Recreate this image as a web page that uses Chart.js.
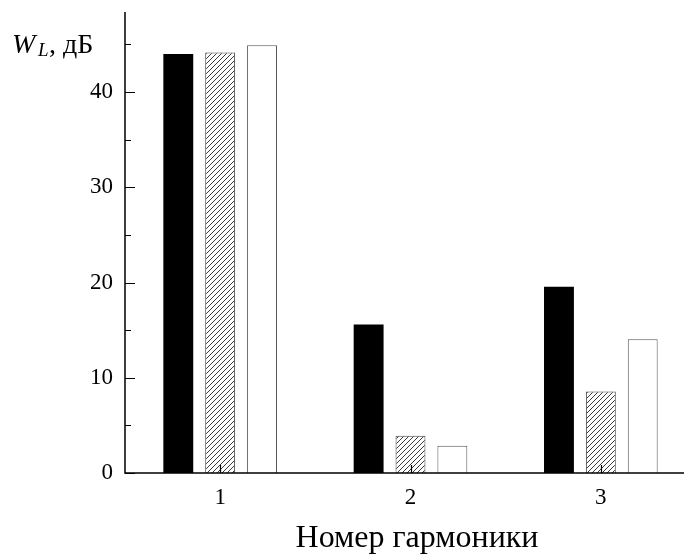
<!DOCTYPE html>
<html>
<head>
<meta charset="utf-8">
<script src="https://cdn.jsdelivr.net/npm/chart.js@4"></script>
<style>
html, body { margin: 0; padding: 0; background: #fff; overflow: hidden; }
#wrap { width: 700px; height: 554px; }
</style>
</head>
<body>
<div id="wrap"><canvas id="chart" width="700" height="554"></canvas></div>
<script>
// data
const categories = ['1', '2', '3'];
const blackBars = [44.0, 15.6, 19.55];
const hatchedBars = [44.15, 3.9, 8.55];
const whiteBars = [44.9, 2.85, 14.05];
const yMajorTicks = [0, 10, 20, 30, 40];
const yMinorTicks = [5, 15, 25, 35, 45];
const xTitle = 'Номер гармоники';

const serif = '"Liberation Serif", "Times New Roman", serif';

function makeHatch() {
    const n = 5;
    const c = document.createElement('canvas');
    c.width = n;
    c.height = n;
    const g = c.getContext('2d');
    g.fillStyle = '#fff';
    g.fillRect(0, 0, n, n);
    g.strokeStyle = '#3a3a3a';
    g.lineWidth = 1;
    g.beginPath();
    g.moveTo(-1, n + 1); g.lineTo(n + 1, -1);
    g.moveTo(-n - 1, 1); g.lineTo(1, -n - 1);
    g.moveTo(n - 1, 2 * n + 1); g.lineTo(2 * n + 1, n - 1);
    g.stroke();
    return g.createPattern(c, 'repeat');
}

const axesPlugin = {
    id: 'axesPlugin',
    afterDatasetsDraw(chart) {
        const ctx = chart.ctx;
        const area = chart.chartArea;
        const x = chart.scales.x;
        const y = chart.scales.y;
        ctx.save();
        ctx.strokeStyle = '#000';
        ctx.lineWidth = 1.5;
        ctx.beginPath();
        ctx.moveTo(area.left, area.top);
        ctx.lineTo(area.left, area.bottom);
        ctx.lineTo(chart.width, area.bottom);
        ctx.stroke();

        // inward ticks
        ctx.lineWidth = 1.2;
        ctx.beginPath();
        yMajorTicks.forEach(v => {
            const py = Math.round(y.getPixelForValue(v)) + 0.5;
            ctx.moveTo(area.left, py);
            ctx.lineTo(area.left + 10, py);
        });
        yMinorTicks.forEach(v => {
            const py = Math.round(y.getPixelForValue(v)) + 0.5;
            ctx.moveTo(area.left, py);
            ctx.lineTo(area.left + 6, py);
        });
        categories.forEach((c, i) => {
            const px = Math.round(x.getPixelForValue(i)) + 0.5;
            ctx.moveTo(px, area.bottom);
            ctx.lineTo(px, area.bottom - 8);
        });
        ctx.stroke();

        // y axis label
        ctx.fillStyle = '#000';
        ctx.textBaseline = 'alphabetic';
        ctx.textAlign = 'left';
        ctx.font = 'italic 28px ' + serif;
        ctx.fillText('W', 12, 53);
        ctx.font = 'italic 19px ' + serif;
        ctx.fillText('L', 38, 56);
        ctx.font = '28px ' + serif;
        ctx.fillText(', дБ', 49, 53);

        // x axis title
        ctx.textAlign = 'center';
        ctx.font = '32px ' + serif;
        ctx.fillText(xTitle, 417, 547);
        ctx.restore();
    }
};

const hatch = makeHatch();

new Chart(document.getElementById('chart'), {
    type: 'bar',
    data: {
        labels: categories,
        datasets: [
            {
                data: blackBars,
                backgroundColor: '#000',
                borderWidth: 0
            },
            {
                data: hatchedBars,
                backgroundColor: hatch,
                borderColor: '#444',
                borderWidth: 1
            },
            {
                data: whiteBars,
                backgroundColor: '#fff',
                borderColor: '#555',
                borderWidth: 1
            }
        ]
    },
    options: {
        responsive: false,
        animation: false,
        datasets: {
            bar: {
                categoryPercentage: 0.66,
                barPercentage: 0.714,
                borderSkipped: 'bottom'
            }
        },
        layout: { padding: { top: 12, right: 4, left: 0, bottom: 0 } },
        plugins: {
            legend: { display: false },
            tooltip: { enabled: false }
        },
        scales: {
            x: {
                grid: { display: false, drawTicks: false },
                border: { display: false },
                ticks: {
                    color: '#000',
                    padding: 11,
                    font: { family: serif, size: 23 }
                },
                afterFit(scale) {
                    scale.height = 81;
                    scale.paddingLeft = 0;
                    scale.paddingRight = 0;
                }
            },
            y: {
                min: 0,
                max: 48.4,
                grid: { display: false, drawTicks: false },
                border: { display: false },
                ticks: {
                    stepSize: 10,
                    color: '#000',
                    padding: 12,
                    font: { family: serif, size: 23 },
                    callback: v => (yMajorTicks.includes(v) ? v : '')
                },
                afterFit(scale) {
                    scale.width = 125;
                    scale.paddingTop = 0;
                    scale.paddingBottom = 0;
                }
            }
        }
    },
    plugins: [axesPlugin]
});
</script>
</body>
</html>
